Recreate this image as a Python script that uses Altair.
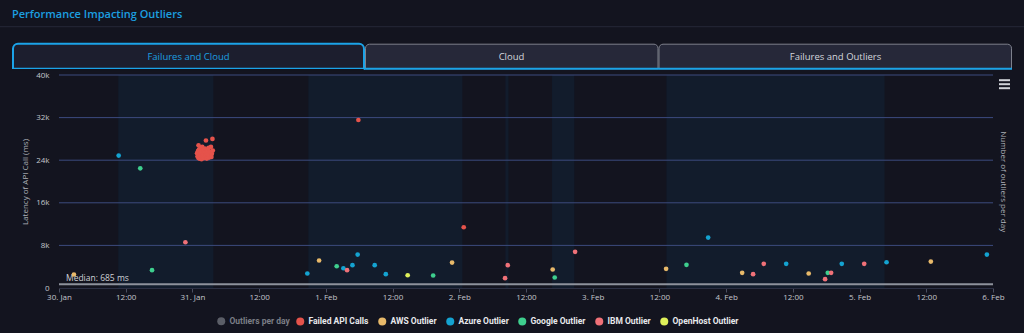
import altair as alt
import pandas as pd

# ---------------- data ----------------
series_names = ["Failed API Calls", "AWS Outlier", "Azure Outlier",
                "Google Outlier", "IBM Outlier", "OpenHost Outlier"]
series_colors = ["#e5534b", "#e8b96a", "#14a3d1", "#3ecf8e", "#f07178", "#dff05a"]
hidden_series = ["Outliers per day"]
hidden_colors = ["#7b7e86"]

start_time = "2024-01-30T00:00"
day_labels = ["30. Jan", "31. Jan", "1. Feb", "2. Feb", "3. Feb", "4. Feb", "5. Feb", "6. Feb"]

failed_times = [
    "2024-01-31T00:50", "2024-01-31T00:55", "2024-01-31T01:00", "2024-01-31T01:05", "2024-01-31T01:06",
    "2024-01-31T01:10", "2024-01-31T01:14", "2024-01-31T01:18", "2024-01-31T01:22", "2024-01-31T01:26",
    "2024-01-31T01:30", "2024-01-31T01:34", "2024-01-31T01:38", "2024-01-31T01:42", "2024-01-31T01:46",
    "2024-01-31T01:50", "2024-01-31T01:55", "2024-01-31T02:00", "2024-01-31T02:05", "2024-01-31T02:10",
    "2024-01-31T02:15", "2024-01-31T02:20", "2024-01-31T02:26", "2024-01-31T02:30", "2024-01-31T02:35",
    "2024-01-31T02:40", "2024-01-31T02:45", "2024-01-31T02:50", "2024-01-31T02:55", "2024-01-31T03:00",
    "2024-01-31T03:05", "2024-01-31T03:10", "2024-01-31T03:15", "2024-01-31T03:20", "2024-01-31T03:25",
    "2024-01-31T03:30", "2024-01-31T03:36", "2024-01-31T03:40",
    "2024-02-01T05:51", "2024-02-02T00:48",
]
failed_values = [
    25300, 24700, 25700, 24400, 26800,
    26000, 25000, 24300, 25900, 26300,
    24900, 25400, 24200, 25700, 26500,
    24600, 25100, 25900, 24400, 25500,
    26200, 24800, 27700, 25300, 24300,
    25800, 24700, 25100, 26300, 24500,
    25600, 24900, 25400, 26500, 24600,
    25200, 28000, 25800,
    31550, 11410,
]

aws_times = ["2024-01-30T02:41", "2024-01-31T22:47", "2024-02-01T22:42", "2024-02-02T16:48",
             "2024-02-03T13:12", "2024-02-04T02:53", "2024-02-04T14:51", "2024-02-05T12:49"]
aws_values = [2530, 5160, 4780, 3470, 3600, 2850, 2720, 4970]

azure_times = ["2024-01-30T10:44", "2024-01-31T20:40", "2024-02-01T03:09", "2024-02-01T04:47",
               "2024-02-01T05:43", "2024-02-01T08:47", "2024-02-01T10:47", "2024-02-03T20:46",
               "2024-02-04T10:48", "2024-02-04T20:48", "2024-02-05T04:51", "2024-02-05T22:54"]
azure_values = [24860, 2720, 3710, 4280, 6280, 4280, 2590, 9470, 4540, 4540, 4840, 6280]

google_times = ["2024-01-30T14:37", "2024-01-30T16:44", "2024-02-01T01:57", "2024-02-01T19:18",
                "2024-02-02T17:10", "2024-02-03T16:52", "2024-02-04T18:17"]
google_values = [22470, 3340, 4090, 2350, 1970, 4350, 2850]

ibm_times = ["2024-01-30T22:44", "2024-02-01T03:49", "2024-02-02T08:14", "2024-02-02T08:43",
             "2024-02-02T20:50", "2024-02-04T04:51", "2024-02-04T06:46", "2024-02-04T17:48",
             "2024-02-04T18:53", "2024-02-05T00:50"]
ibm_values = [8590, 3340, 1840, 4280, 6790, 2590, 4540, 1650, 2850, 4540]

openhost_times = ["2024-02-01T14:43"]
openhost_values = [2400]

band_starts = ["2024-01-30T10:40", "2024-01-31T20:51", "2024-02-02T08:18", "2024-02-02T16:41", "2024-02-03T13:16"]
band_ends = ["2024-01-31T03:46", "2024-02-02T00:33", "2024-02-02T08:51", "2024-02-02T20:41", "2024-02-05T04:29"]

grid_values = [8000, 16000, 24000, 32000, 40000]
y_tick_values = [0, 8000, 16000, 24000, 32000, 40000]
x_tick_hours = list(range(0, 169, 12))
median_value = 685
median_label = "Median: 685 ms"

title_text = "Performance Impacting Outliers"
tab_labels = ["Failures and Cloud", "Cloud", "Failures and Outliers"]
left_title = "Latency of API Call (ms)"
right_title = "Number of outliers per day"

# ---------------- frames ----------------
t0 = pd.Timestamp(start_time)
def hrs(t):
    return (pd.Timestamp(t) - t0).total_seconds() / 3600.0

rows = []
for name, ts, vs in [
    ("Failed API Calls", failed_times, failed_values),
    ("AWS Outlier", aws_times, aws_values),
    ("Azure Outlier", azure_times, azure_values),
    ("Google Outlier", google_times, google_values),
    ("IBM Outlier", ibm_times, ibm_values),
    ("OpenHost Outlier", openhost_times, openhost_values),
]:
    for t, v in zip(ts, vs):
        rows.append({"h": hrs(t), "latency": v, "series": name})
points_df = pd.DataFrame(rows)
bands_df = pd.DataFrame({"start": [hrs(t) for t in band_starts], "end": [hrs(t) for t in band_ends]})
grid_df = pd.DataFrame({"v": grid_values})
median_df = pd.DataFrame({"v": [median_value], "label": [median_label]})
hidden_df = pd.DataFrame({"series": hidden_series, "h": [0.0]})

BG = "#13141f"
FONT = "Open Sans"
W, H = 934, 213

x_scale = alt.Scale(domain=[0, 168], nice=False, zero=False)
y_scale = alt.Scale(domain=[0, 40000], nice=False)

day_array = "[" + ",".join("'" + d + "'" for d in day_labels) + "]"
x_axis = alt.Axis(
    title=None, grid=False, values=x_tick_hours,
    labelExpr="datum.value % 24 == 0 ? " + day_array + "[floor(datum.value / 24)] : '12:00'",
    labelColor="#c4c6cc", labelFont=FONT, labelFontSize=8, labelPadding=1, labelOverlap=False,
    labelFlush=False, tickColor="#4a4e60", tickSize=4, domainColor="#2c3044", domainWidth=1,
)
y_axis = alt.Axis(
    title=left_title, values=y_tick_values,
    labelExpr="datum.value == 0 ? '0' : (datum.value / 1000) + 'k'",
    grid=False, ticks=False, domain=False, labelPadding=10,
    labelColor="#c4c6cc", labelFont=FONT, labelFontSize=8,
    titleColor="#aeb0b8", titleFont=FONT, titleFontSize=8, titleFontWeight="normal", titlePadding=6,
)

bands = alt.Chart(bands_df).mark_rect(color="#121c2c").encode(
    x=alt.X("start:Q", scale=x_scale, axis=x_axis),
    x2="end:Q",
)

grid = alt.Chart(grid_df).mark_rule(color="#3c4a7e", strokeWidth=1).encode(
    y=alt.Y("v:Q", scale=y_scale, axis=y_axis)
)

median_rule = alt.Chart(median_df).mark_rule(color="#8e929c", strokeWidth=2).encode(
    y=alt.Y("v:Q", scale=y_scale)
)
median_text = alt.Chart(median_df).mark_text(
    align="left", baseline="bottom", dy=-1, font=FONT, fontSize=8.5, color="#cfd1d6"
).encode(x=alt.value(7), y=alt.Y("v:Q", scale=y_scale), text="label:N")

legend_common = dict(
    title=None, orient="none", direction="horizontal", legendY=242,
    symbolType="circle", symbolSize=64, symbolStrokeWidth=0,
    labelFont="Roboto", labelFontSize=8.5, labelFontWeight="bold",
    columnPadding=9, labelOffset=4,
)

pts = alt.Chart(points_df).mark_circle(size=22, opacity=1).encode(
    x=alt.X("h:Q", scale=x_scale),
    y=alt.Y("latency:Q", scale=y_scale),
    color=alt.Color(
        "series:N",
        scale=alt.Scale(domain=series_names, range=series_colors),
        legend=alt.Legend(legendX=237, labelColor="#e8e9ec", **legend_common),
    ),
)

hidden_layer = alt.Chart(hidden_df).transform_filter("datum.h < 0").mark_circle(size=22).encode(
    x=alt.X("h:Q", scale=x_scale),
    fill=alt.Fill(
        "series:N",
        scale=alt.Scale(domain=hidden_series, range=hidden_colors),
        legend=alt.Legend(legendX=158, labelColor="#7b7e86", **legend_common),
    ),
)

one = alt.Data(values=[{"k": 1}])
# page decorations (title bar, tabs, menu icon), positioned in pixels relative to plot origin
OX, OY = 59, 75.3
def px(v):
    return alt.value(v - OX)
def py(v):
    return alt.value(v - OY)

right_title_mark = alt.Chart(one).mark_text(
    text=right_title, angle=90, align="center", baseline="middle", font=FONT, fontSize=8, color="#aeb0b8"
).encode(x=px(1003), y=py(182))

title_mark = alt.Chart(one).mark_text(
    text=title_text, align="left", baseline="middle", font=FONT, fontSize=11, fontWeight=600, color="#1c9fe0"
).encode(x=px(12), y=py(15))
sep = alt.Chart(one).mark_rule(color="#252838", strokeWidth=1).encode(
    x=px(0), x2=px(1024), y=py(27))

tab_active = alt.Chart(one).mark_rect(
    fill="#1c1e2e", stroke="#1ba3e8", strokeWidth=2, cornerRadiusTopLeft=5, cornerRadiusTopRight=5
).encode(x=px(13), x2=px(364), y=py(44), y2=py(69))
tab_cloud = alt.Chart(one).mark_rect(
    fill="#262839", stroke="#7d808c", strokeWidth=1, cornerRadiusTopLeft=4, cornerRadiusTopRight=4
).encode(x=px(365.5), x2=px(658), y=py(44.5), y2=py(69))
tab_third = alt.Chart(one).mark_rect(
    fill="#262839", stroke="#7d808c", strokeWidth=1, cornerRadiusTopLeft=4, cornerRadiusTopRight=4
).encode(x=px(659), x2=px(1011.5), y=py(44.5), y2=py(69))
tab_line = alt.Chart(one).mark_rule(color="#1ba3e8", strokeWidth=2).encode(
    x=px(364), x2=px(1012), y=py(69))
tab_active_cover = alt.Chart(one).mark_rect(color=BG).encode(
    x=px(10), x2=px(363.6), y=py(69.2), y2=py(70.6))

tab_texts = []
for label, cx, col in [(tab_labels[0], 188.5, "#1c9fe0"), (tab_labels[1], 511.5, "#d4d6dc"),
                       (tab_labels[2], 835.5, "#d4d6dc")]:
    tab_texts.append(alt.Chart(one).mark_text(
        text=label, align="center", baseline="middle", font=FONT, fontSize=9.5, color=col
    ).encode(x=px(cx), y=py(57)))

menu = [alt.Chart(one).mark_rule(color="#d0d2d8", strokeWidth=2).encode(
    x=px(999), x2=px(1010), y=py(yy)) for yy in (80.5, 84.5, 88.5)]

chart = alt.layer(
    bands, grid, median_rule, median_text, pts, hidden_layer, right_title_mark,
    title_mark, sep, tab_active, tab_cloud, tab_third, tab_line, tab_active_cover,
    *tab_texts, *menu,
).properties(
    width=W, height=H,
    background=BG,
    padding={"left": 59, "top": 75, "right": 31, "bottom": 45},
    autosize=alt.AutoSizeParams(type="none"),
).configure_view(strokeWidth=0)

chart.save("out.html", embed_options={"renderer": "svg", "actions": False})
